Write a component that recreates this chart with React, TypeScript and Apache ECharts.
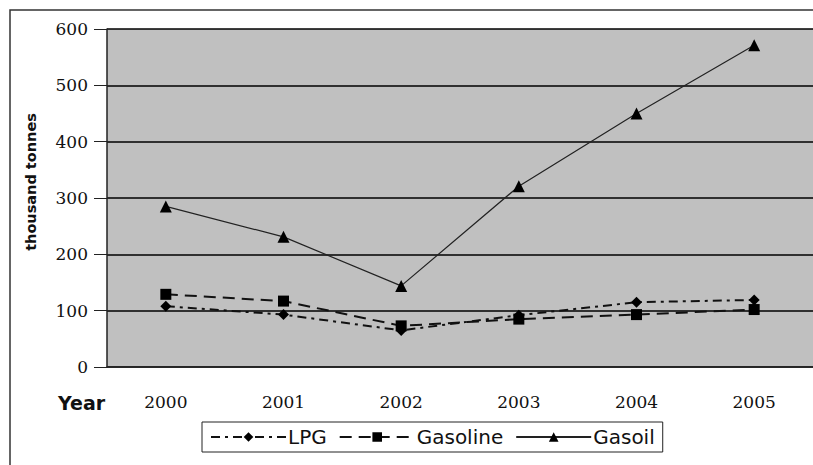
import React, { useEffect, useRef } from "react";
import * as echarts from "echarts";

const years = ["2000", "2001", "2002", "2003", "2004", "2005"];
const lpg = [108, 93, 65, 92, 115, 119];
const gasoline = [129, 117, 73, 85, 93, 102];
const gasoil = [285, 231, 144, 321, 450, 571];
const yTicks = { min: 0, max: 600, interval: 100 };

export default function App() {
  const ref = useRef<HTMLDivElement>(null);
  useEffect(() => {
    const chart = echarts.init(ref.current!, null, { renderer: "svg" });
    const serif = "DejaVu Serif";
    const sans = "DejaVu Sans";
    chart.setOption({
      animation: false,
      backgroundColor: "#ffffff",
      grid: { left: 107, right: -2, top: 29, bottom: 98, show: true, backgroundColor: "#c0c0c0", borderWidth: 0 },
      graphic: [
        { type: "polyline", shape: { points: [[10, 465], [10, 10], [813, 10]] }, style: { stroke: "#333", lineWidth: 1.5, fill: "none" }, z: 0 },
        { type: "text", x: 58, y: 403, style: { text: "Year", font: `bold 19px ${sans}`, fill: "#111", verticalAlign: "middle" } },
        { type: "text", x: 31, y: 182, rotation: Math.PI / 2, style: { text: "thousand tonnes", font: `bold 14.5px ${sans}`, fill: "#111", align: "center", verticalAlign: "middle" } },
      ],
      legend: {
        top: 422,
        left: 202,
        itemWidth: 75,
        itemHeight: 12,
        itemGap: 12,
        padding: [5, 8, 5, 8],
        borderColor: "#222",
        borderWidth: 1,
        backgroundColor: "#fff",
        textStyle: { fontFamily: sans, fontSize: 20, color: "#111", padding: [0, 0, 0, -3] },
        data: ["LPG", "Gasoline", "Gasoil"],
      },
      xAxis: {
        type: "category",
        data: years,
        boundaryGap: true,
        axisLine: { lineStyle: { color: "#222", width: 1.5 } },
        axisTick: { length: 6, lineStyle: { color: "#222" } },
        axisLabel: { fontFamily: serif, fontSize: 17, color: "#111", margin: 26 },
      },
      yAxis: {
        type: "value",
        ...yTicks,
        axisLine: { show: true, lineStyle: { color: "#222", width: 1.5 } },
        axisTick: { show: true, length: 13, lineStyle: { color: "#222" } },
        axisLabel: { fontFamily: serif, fontSize: 17, color: "#111", margin: 19 },
        splitLine: { lineStyle: { color: "#000", width: 1.5 } },
      },
      series: [
        {
          name: "LPG", type: "line", data: lpg, symbol: "diamond", symbolSize: 11,
          itemStyle: { color: "#000" },
          lineStyle: { color: "#111", width: 2, type: [9, 5, 3, 5] },
        },
        {
          name: "Gasoline", type: "line", data: gasoline, symbol: "rect", symbolSize: 11,
          itemStyle: { color: "#000" },
          lineStyle: { color: "#111", width: 2, type: [12, 7] },
        },
        {
          name: "Gasoil", type: "line", data: gasoil, symbol: "triangle", symbolSize: 12,
          itemStyle: { color: "#000" },
          lineStyle: { color: "#222", width: 1.2, type: "solid" },
        },
      ],
    });
    return () => chart.dispose();
  }, []);
  return <div ref={ref} style={{ position: "fixed", left: 0, top: 0, width: 813, height: 465 }} />;
}
